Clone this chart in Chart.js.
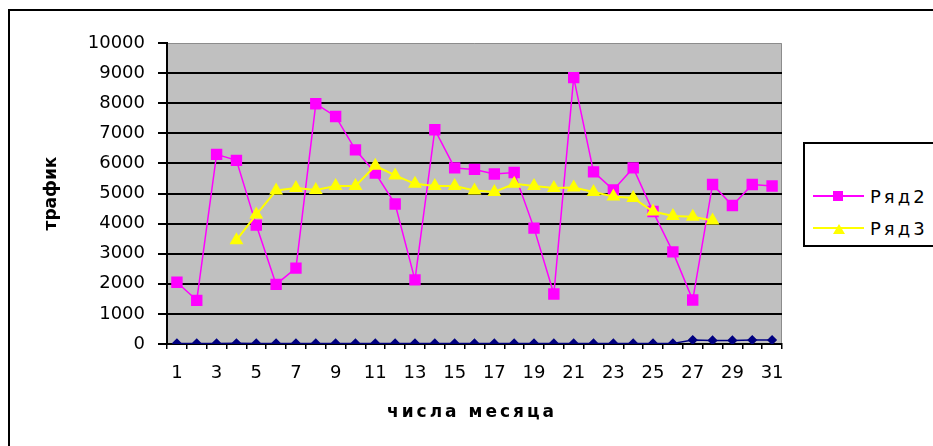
<!DOCTYPE html>
<html>
<head>
<meta charset="utf-8">
<script src="https://cdn.jsdelivr.net/npm/chart.js@4"></script>
<style>
    html, body { margin: 0; padding: 0; background: #fff; overflow: hidden; }
    #wrap { position: relative; width: 933px; height: 446px; overflow: hidden; }
    #frame {
        position: absolute; left: 8px; top: 9px; width: 1200px; height: 800px;
        border-left: 2px solid #000; border-top: 2px solid #000;
    }
    #chart { position: absolute; left: 0; top: 0; }
    #xTitle {
        position: absolute; left: 472px; top: 411px; transform: translate(-50%, -50%);
        font-family: "DejaVu Sans"; font-weight: bold; font-size: 17px; color: #000;
        white-space: nowrap; letter-spacing: 3px;
    }
    #legend {
        position: absolute; left: 803px; top: 142px; width: 200px; height: 101px;
        border: 2px solid #000; background: #fff;
    }
    .lg-line { position: absolute; left: 8px; width: 51px; height: 2px; }
    .lg-text { position: absolute; left: 65px; font-family: "DejaVu Sans"; font-size: 18px; letter-spacing: 3px; color: #000; transform: translateY(-50%); }
</style>
</head>
<body>
<div id="wrap">
    <div id="frame"></div>
    <canvas id="chart" width="933" height="446"></canvas>
    <div id="xTitle">числа месяца</div>
    <div id="legend">
        <div class="lg-line" style="top:51px; background:#ff00ff;"></div>
        <div style="position:absolute; left:28px; top:47px; width:10px; height:10px; background:#ff00ff;"></div>
        <div class="lg-text" style="top:52px;">Ряд2</div>
        <div class="lg-line" style="top:83px; background:#ffff00;"></div>
        <div style="position:absolute; left:28px; top:80px; width:0; height:0; border-left:6px solid transparent; border-right:6px solid transparent; border-bottom:10px solid #ffff00;"></div>
        <div class="lg-text" style="top:84px;">Ряд3</div>
    </div>
</div>
<script>
// числа месяца
const days = ["1", "2", "3", "4", "5", "6", "7", "8", "9", "10", "11", "12", "13", "14", "15", "16",
    "17", "18", "19", "20", "21", "22", "23", "24", "25", "26", "27", "28", "29", "30", "31"];

// Ряд1 - почти ноль
const ryad1 = [20, 20, 20, 25, 20, 20, 20, 20, 20, 20, 20, 20, 20, 20, 20, 20,
    20, 20, 20, 20, 20, 20, 20, 20, 20, 20, 130, 120, 120, 130, 130];

// Ряд2
const ryad2 = [2050, 1450, 6300, 6100, 3950, 1980, 2520, 7980, 7560, 6450, 5680, 4650, 2130, 7120, 5850, 5800,
    5650, 5700, 3850, 1660, 8850, 5720, 5120, 5850, 4400, 3060, 1460, 5300, 4600, 5300, 5250];

// Ряд3 (с 4 по 28 число)
const ryad3 = [null, null, null, 3450, 4300, 5100, 5180, 5120, 5250, 5250, 5920, 5600, 5320, 5250, 5250, 5100,
    5050, 5320, 5250, 5180, 5200, 5050, 4900, 4850, 4400, 4250, 4230, 4100, null, null, null];

const yMin = 0;
const yMax = 10000;
const yStep = 1000;

// серый фон области построения
const plotBg = {
    id: "plotBg",
    beforeDraw(chart) {
        const { ctx, chartArea: a } = chart;
        ctx.save();
        ctx.fillStyle = "#c0c0c0";
        ctx.fillRect(a.left, a.top, a.right - a.left, a.bottom - a.top);
        ctx.strokeStyle = "#8c8c8c";
        ctx.lineWidth = 1;
        ctx.beginPath();
        ctx.moveTo(a.left, a.top + 0.5);
        ctx.lineTo(a.right - 0.5, a.top + 0.5);
        ctx.lineTo(a.right - 0.5, a.bottom);
        ctx.stroke();
        ctx.restore();
    },
};

const tickFont = { family: "DejaVu Sans", size: 18 };

new Chart(document.getElementById("chart"), {
    type: "line",
    data: {
        labels: days,
        datasets: [
            {
                label: "Ряд1",
                data: ryad1,
                order: 2,
                borderColor: "#000080",
                backgroundColor: "#000080",
                borderWidth: 1.5,
                pointStyle: "rectRot",
                pointRadius: 4,
                tension: 0,
            },
            {
                label: "Ряд2",
                data: ryad2,
                order: 1,
                borderColor: "#ff00ff",
                backgroundColor: "#ff00ff",
                borderWidth: 1.5,
                pointStyle: "rect",
                pointRadius: 7,
                tension: 0,
            },
            {
                label: "Ряд3",
                data: ryad3,
                order: 0,
                borderColor: "#ffff00",
                backgroundColor: "#ffff00",
                borderWidth: 2,
                pointStyle: "triangle",
                pointRadius: 6,
                tension: 0,
            },
        ],
    },
    options: {
        responsive: false,
        animation: false,
        layout: { padding: { left: 0, top: 43, right: 151, bottom: 0 } },
        plugins: {
            legend: { display: false },
            tooltip: { enabled: false },
        },
        scales: {
            x: {
                offset: true,
                afterFit(scale) { scale.height = 102; },
                border: { color: "#000", width: 2 },
                grid: { offset: true, drawOnChartArea: false, color: "#000", lineWidth: 1.5, tickLength: 5 },
                ticks: {
                    autoSkip: false,
                    maxRotation: 0,
                    padding: 14,
                    color: "#000",
                    font: tickFont,
                    callback: (v, i) => (i % 2 === 0 ? days[i] : ""),
                },
            },
            y: {
                min: yMin,
                max: yMax,
                afterFit(scale) { scale.width = 167; },
                border: { color: "#000", width: 2 },
                title: {
                    display: true,
                    text: "трафик",
                    color: "#000",
                    font: { family: "DejaVu Sans", size: 17, weight: "bold" },
                    padding: { top: 41, bottom: 0 },
                },
                grid: {
                    color: (c) => (c.tick && c.tick.value === yMax ? "rgba(0,0,0,0)" : "#000"),
                    tickColor: "#000",
                    lineWidth: 2,
                    tickLength: 9,
                },
                ticks: {
                    stepSize: yStep,
                    padding: 13,
                    color: "#000",
                    font: tickFont,
                    callback: (v) => String(v),
                },
            },
        },
    },
    plugins: [plotBg],
});
</script>
</body>
</html>
